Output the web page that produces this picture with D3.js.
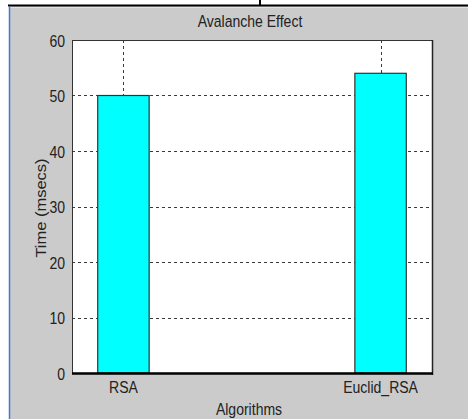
<!DOCTYPE html>
<html>
<head>
<meta charset="utf-8">
<script src="https://cdn.jsdelivr.net/npm/d3@7"></script>
<style>
  html, body { margin: 0; padding: 0; background: #ffffff; }
  svg { display: block; }
  text { font-family: "Liberation Sans", Arial, sans-serif; fill: #222; }
</style>
</head>
<body>
<svg id="chart" width="468" height="419"></svg>
<script>
// ---- data ----
const categories = ["RSA", "Euclid_RSA"];
const values = [50, 54];
const yTicks = [0, 10, 20, 30, 40, 50, 60];
const title = "Avalanche Effect";
const xTitle = "Algorithms";
const yTitle = "Time (msecs)";

// ---- layout ----
const W = 468, H = 419;
const plot = { left: 72, right: 432, top: 40, bottom: 373 };
const sx = 0.85;      // horizontal squeeze of the reference raster
const fs = 16.5;

const svg = d3.select("#chart");

// frame decorations
svg.append("rect").attr("x", 9).attr("y", 6).attr("width", W - 9).attr("height", H - 6).attr("fill", "#cbcbcb");
svg.append("line").attr("x1", 10).attr("x2", W).attr("y1", 7.5).attr("y2", 7.5).attr("stroke", "#e2e2e2").attr("stroke-width", 1);
svg.append("line").attr("x1", 8).attr("x2", W).attr("y1", 5.5).attr("y2", 5.5).attr("stroke", "#000").attr("stroke-width", 2);
svg.append("line").attr("x1", 260).attr("x2", 260).attr("y1", 0).attr("y2", 5).attr("stroke", "#000").attr("stroke-width", 2);
svg.append("line").attr("x1", 9.5).attr("x2", 9.5).attr("y1", 6).attr("y2", H).attr("stroke", "#3a7bd5").attr("stroke-width", 1.5);

// scales
const x = d3.scaleLinear().domain([0.8, 2.2]).range([plot.left, plot.right]);
const y = d3.scaleLinear().domain([0, 60]).range([plot.bottom, plot.top]);
const barW = x(1.2) - x(1.0);

// plot background
svg.append("rect")
  .attr("x", plot.left).attr("y", plot.top)
  .attr("width", plot.right - plot.left).attr("height", plot.bottom - plot.top)
  .attr("fill", "#fff");

// grid lines
const grid = svg.append("g").attr("stroke", "#3a3a3a").attr("stroke-width", 1).attr("stroke-dasharray", "3,3");
grid.selectAll("line.h").data(yTicks.filter(d => d > 0 && d < 60)).join("line")
  .attr("x1", plot.left).attr("x2", plot.right)
  .attr("y1", d => Math.round(y(d)) + 0.5).attr("y2", d => Math.round(y(d)) + 0.5);
grid.selectAll("line.v").data(categories).join("line")
  .attr("x1", (d, i) => Math.round(x(i + 1)) + 0.5).attr("x2", (d, i) => Math.round(x(i + 1)) + 0.5)
  .attr("y1", plot.top).attr("y2", plot.bottom);

// bars
svg.append("g").selectAll("rect").data(values).join("rect")
  .attr("x", (d, i) => x(i + 1) - barW / 2)
  .attr("y", d => y(d))
  .attr("width", barW)
  .attr("height", d => y(0) - y(d))
  .attr("fill", "#00ffff")
  .attr("stroke", "#333")
  .attr("stroke-width", 1.2);

// axes box
const box = svg.append("g").attr("fill", "none");
box.append("line").attr("x1", plot.left).attr("x2", plot.right).attr("y1", plot.top + 0.5).attr("y2", plot.top + 0.5).attr("stroke", "#333");
box.append("line").attr("x1", plot.left + 0.5).attr("x2", plot.left + 0.5).attr("y1", plot.top).attr("y2", plot.bottom).attr("stroke", "#333");
box.append("line").attr("x1", plot.right + 0.5).attr("x2", plot.right + 0.5).attr("y1", plot.top).attr("y2", plot.bottom + 2).attr("stroke", "#222").attr("stroke-width", 1.5);
box.append("line").attr("x1", plot.left).attr("x2", plot.right + 1).attr("y1", plot.bottom + 0.5).attr("y2", plot.bottom + 0.5).attr("stroke", "#000").attr("stroke-width", 2.5);

// y tick labels
svg.append("g").selectAll("text").data(yTicks).join("text")
  .attr("transform", d => `translate(65,${y(d) + 6.5}) scale(${sx},1)`)
  .attr("text-anchor", "end")
  .style("font-size", fs + "px")
  .text(d => d);

// x tick labels
svg.append("g").selectAll("text").data(categories).join("text")
  .attr("transform", (d, i) => `translate(${x(i + 1)},393) scale(${sx},1)`)
  .attr("text-anchor", "middle")
  .style("font-size", fs + "px")
  .text(d => d);

// title
svg.append("text")
  .attr("transform", `translate(250,27) scale(${sx},1)`)
  .attr("text-anchor", "middle")
  .style("font-size", fs + "px")
  .text(title);

// x axis title
svg.append("text")
  .attr("transform", `translate(249,415) scale(${sx},1)`)
  .attr("text-anchor", "middle")
  .style("font-size", fs + "px")
  .text(xTitle);

// y axis title
svg.append("text")
  .attr("transform", `translate(46,208) scale(${sx},1) rotate(-90)`)
  .attr("text-anchor", "middle")
  .style("font-size", fs + "px")
  .text(yTitle);
</script>
</body>
</html>
